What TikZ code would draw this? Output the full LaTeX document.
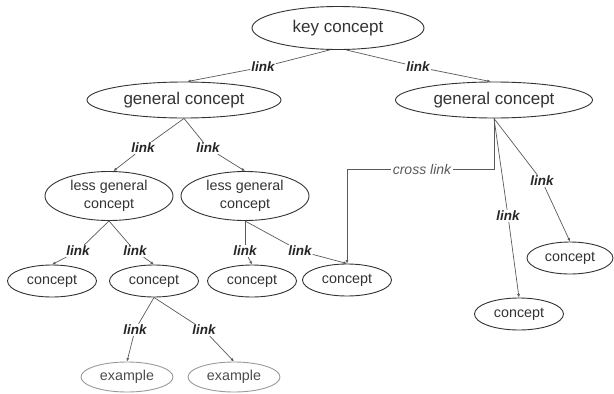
\documentclass[tikz,border=0pt]{standalone}
\usepackage{fontspec}
\setmainfont{Liberation Sans}
\usetikzlibrary{arrows.meta, positioning, shapes.geometric}

\definecolor{inkgray}{HTML}{333333}
\definecolor{linegray}{HTML}{5A5A5A}

\begin{document}
\begin{tikzpicture}[x=1pt, y=-1pt,
    concept/.style={ellipse, draw=inkgray, line width=0.9pt, inner sep=0pt, align=center,
        text=inkgray, font=\fontsize{14.3}{17.5}\selectfont,
        minimum width=89pt, minimum height=32pt},
    bigconcept/.style={concept, font=\fontsize{17}{20}\selectfont},
    example/.style={concept, draw=gray!80, text=black!70,
        minimum width=92pt, minimum height=30pt},
    phrase/.style={inner sep=1pt, text=black!85,
        font=\fontsize{13.5}{15}\selectfont\bfseries\itshape},
    crossphrase/.style={inner sep=2pt, text=black!65,
        font=\fontsize{14}{16}\selectfont\itshape},
    conn/.style={draw=linegray, line width=0.7pt},
    arr/.style={conn, -{Latex[length=3.5pt, width=3pt]}}]
\useasboundingbox (0,0) rectangle (614,394);

% Concepts
\node[bigconcept, minimum width=172pt, minimum height=43pt] (key) at (338,28) {key concept};
\node[bigconcept, minimum width=194pt, minimum height=36pt] (gen1) at (184,100) {general concept};
\node[bigconcept, minimum width=197pt, minimum height=36pt] (gen2) at (494,100) {general concept};
\node[concept, minimum width=128pt, minimum height=49pt] (less1) at (109,196) {less general\\concept};
\node[concept, minimum width=128pt, minimum height=49pt] (less2) at (245,196) {less general\\concept};
\node[concept] (c1) at (52,281) {concept};
\node[concept] (c2) at (154,281) {concept};
\node[concept] (c3) at (252,281) {concept};
\node[concept] (c4) at (347,280) {concept};
\node[concept, minimum width=86pt] (c5) at (570,258) {concept};
\node[concept] (c6) at (519,314) {concept};
\node[example] (ex1) at (127,377) {example};
\node[example] (ex2) at (234,377) {example};

% Linking phrases
\foreach \n/\x/\y in {lk1/263/67, lk2/418/67, lk3/143/148, lk4/208/148,
    lk5/78/251, lk6/135/251, lk7/245/251, lk8/300/251,
    lk9/135/330, lk10/204/330, lk11/542/181, lk12/508/216}
  \node[phrase] (\n) at (\x,\y) {link};
\node[crossphrase] (xl) at (422,169) {cross link};

% Connectors
\foreach \a/\b in {key.250/lk1, key.290/lk2, gen1.south/lk3, gen1.south/lk4,
    less1.south/lk5, less1.south/lk6, less2.south/lk7, less2.south/lk8,
    c2.south/lk9, c2.south/lk10, gen2.south/lk11, gen2.south/lk12}
  \draw[conn] (\a) -- (\b);
\foreach \a/\b in {lk1/gen1.80, lk2/gen2.100, lk3/less1.80, lk4/less2.north,
    lk5/c1.north, lk6/c2.north, lk7/c3.north, lk8/c4.north,
    lk9/ex1.north, lk10/ex2.north, lk11/c5.north, lk12/c6.north}
  \draw[arr] (\a) -- (\b);

% Cross link
\draw[conn] (gen2.south) |- (xl);
\draw[arr] (xl) -| (c4.north);
\end{tikzpicture}
\end{document}
